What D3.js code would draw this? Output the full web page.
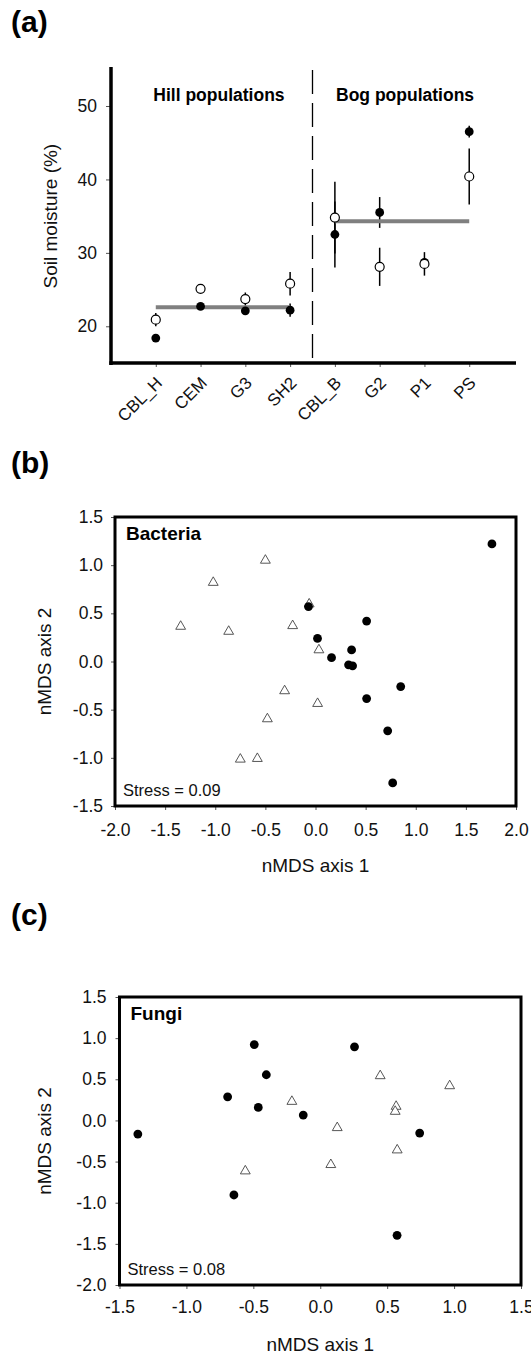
<!DOCTYPE html>
<html><head><meta charset="utf-8">
<script src="https://cdn.jsdelivr.net/npm/d3@7"></script>
<style>body{margin:0;background:#fff}svg{display:block;font-family:Arial,"Liberation Sans",sans-serif}</style>
</head><body><svg id="chart" width="531" height="1357"></svg>
<script>
// ---- Panel (a) data ----
const categories = ["CBL_H","CEM","G3","SH2","CBL_B","G2","P1","PS"];
const filledMean = [18.4, 22.7, 22.1, 22.2, 32.5, 35.5, 28.7, 46.5];
const filledErr  = [0.4, 0.4, 0.5, 0.9, 4.5, 2.1, 0.5, 0.8];
const openMean   = [20.9, 25.1, 23.7, 25.8, 34.8, 28.1, 28.5, 40.4];
const openErr    = [0.9, 0.4, 0.9, 1.6, 4.9, 2.6, 1.6, 3.8];
const groupNames = ["Hill populations","Bog populations"];
const groupMean  = [22.6, 34.3];
const groupFrom  = ["CBL_H","CBL_B"];
const groupTo    = ["SH2","PS"];
const yTicksA    = [20,30,40,50];

// ---- Panel (b) Bacteria ----
const bactFilledX = [1.76,-0.07,0.51,0.02,0.36,0.16,0.33,0.37,0.85,0.51,0.72,0.77];
const bactFilledY = [1.22,0.57,0.42,0.24,0.12,0.04,-0.035,-0.045,-0.26,-0.385,-0.72,-1.26];
const bactOpenX   = [-0.50,-1.02,-1.345,-0.866,-0.228,-0.063,0.034,-0.308,0.021,-0.48,-0.75,-0.58];
const bactOpenY   = [1.05,0.82,0.364,0.312,0.371,0.596,0.12,-0.305,-0.437,-0.596,-1.015,-1.008];
const bactXTicks  = [-2.0,-1.5,-1.0,-0.5,0.0,0.5,1.0,1.5,2.0];
const bactYTicks  = [-1.5,-1.0,-0.5,0.0,0.5,1.0,1.5];

// ---- Panel (c) Fungi ----
const fungFilledX = [-0.493,0.256,-0.403,-0.692,-0.463,-0.127,-1.363,0.743,-0.645,0.574];
const fungFilledY = [0.922,0.894,0.555,0.287,0.158,0.065,-0.166,-0.154,-0.906,-1.396];
const fungOpenX   = [0.448,0.967,-0.212,0.567,0.56,0.127,0.575,0.079,-0.56];
const fungOpenY   = [0.542,0.42,0.23,0.17,0.109,-0.089,-0.36,-0.538,-0.615];
const fungXTicks  = [-1.5,-1.0,-0.5,0.0,0.5,1.0,1.5];
const fungYTicks  = [-2.0,-1.5,-1.0,-0.5,0.0,0.5,1.0,1.5];

const svg = d3.select("#chart");
svg.append("rect").attr("width",531).attr("height",1357).attr("fill","#fff");

function panelLabel(t, x, y){
  svg.append("text").attr("x",x).attr("y",y).attr("font-size",30).attr("font-weight","bold").attr("fill","#000").text(t);
}
function styleAxis(g){
  g.select(".domain").remove();
  g.selectAll(".tick line").attr("stroke","#555").attr("stroke-width",1);
  g.selectAll(".tick text").attr("fill","#111").attr("font-family","Arial, 'Liberation Sans', sans-serif");
}

// ================= Panel (a) =================
panelLabel("(a)", 11, 32);
const xa = d3.scaleLinear().domain([0, categories.length + 1]).range([111, 514]);
const ya = d3.scaleLinear().domain([15, 55]).range([363, 69.3]);
const xpos = c => xa(categories.indexOf(c) + 1);

const gyA = svg.append("g").attr("transform","translate(111,0)")
  .call(d3.axisLeft(ya).tickValues(yTicksA).tickSize(5).tickPadding(9).tickFormat(d3.format("d")));
styleAxis(gyA);
gyA.selectAll(".tick text").attr("font-size",17.5);

const gxA = svg.append("g").attr("transform","translate(0,363)")
  .call(d3.axisBottom(xa).tickValues(categories.map((c,i)=>i+1)).tickSize(4).tickFormat(i=>categories[i-1]));
styleAxis(gxA);
gxA.selectAll(".tick text").attr("font-size",17).attr("text-anchor","end")
  .attr("x",null).attr("y",null).attr("dy",null)
  .attr("transform","translate(7,21) rotate(-45)");

svg.append("line").attr("x1",111).attr("x2",111).attr("y1",67).attr("y2",365)
  .attr("stroke","#000").attr("stroke-width",3.5);
svg.append("line").attr("x1",109.3).attr("x2",516).attr("y1",363).attr("y2",363)
  .attr("stroke","#000").attr("stroke-width",3.5);

// divider
svg.append("line").attr("x1",xa(4.5)).attr("x2",xa(4.5)).attr("y1",70).attr("y2",362)
  .attr("stroke","#000").attr("stroke-width",1.3).attr("stroke-dasharray","24,9");

svg.append("text").attr("transform","rotate(-90)").attr("x",-(ya(15)+ya(55))/2).attr("y",57)
  .attr("text-anchor","middle").attr("font-size",19).attr("fill","#111").text("Soil moisture (%)");

svg.selectAll("text.grp").data(groupNames).enter().append("text").attr("class","grp")
  .attr("x",(d,i)=>i===0 ? xa(2.5)-4 : xa(6.5)+3).attr("y",101)
  .attr("text-anchor","middle").attr("font-size",17.5).attr("font-weight","bold").attr("fill","#000").text(d=>d);

// error bars
categories.forEach((c,i)=>{
  svg.append("line").attr("x1",xpos(c)).attr("x2",xpos(c))
    .attr("y1",ya(openMean[i]+openErr[i])).attr("y2",ya(openMean[i]-openErr[i]))
    .attr("stroke","#000").attr("stroke-width",1.5);
  svg.append("line").attr("x1",xpos(c)).attr("x2",xpos(c))
    .attr("y1",ya(filledMean[i]+filledErr[i])).attr("y2",ya(filledMean[i]-filledErr[i]))
    .attr("stroke","#000").attr("stroke-width",1.5);
});
// group mean lines
groupMean.forEach((m,i)=>{
  svg.append("line").attr("x1",xpos(groupFrom[i])).attr("x2",xpos(groupTo[i]))
    .attr("y1",ya(m)).attr("y2",ya(m)).attr("stroke","#808080").attr("stroke-width",4);
});
svg.selectAll("circle.fa").data(categories).enter().append("circle").attr("class","fa")
  .attr("cx",d=>xpos(d)).attr("cy",(d,i)=>ya(filledMean[i])).attr("r",4.4).attr("fill","#000");
svg.selectAll("circle.oa").data(categories).enter().append("circle").attr("class","oa")
  .attr("cx",d=>xpos(d)).attr("cy",(d,i)=>ya(openMean[i])).attr("r",4.5)
  .attr("fill","#fff").attr("stroke","#000").attr("stroke-width",1.2);

// ================= nMDS panels =================
function nmds(o){
  panelLabel(o.label, 11, o.labelY);
  const x = d3.scaleLinear().domain(o.xd).range(o.xr);
  const y = d3.scaleLinear().domain(o.yd).range(o.yr);
  const fmt = d => d3.format(".1f")(d).replace("−","-");
  const gx = svg.append("g").attr("transform",`translate(0,${o.yr[0]})`)
    .call(d3.axisBottom(x).tickValues(o.xt).tickSize(4).tickPadding(o.xpad).tickFormat(fmt));
  styleAxis(gx);
  gx.selectAll(".tick text").attr("font-size",17.5);
  const gy = svg.append("g").attr("transform",`translate(${o.xr[0]},0)`)
    .call(d3.axisLeft(y).tickValues(o.yt).tickSize(4).tickPadding(o.ypad).tickFormat(fmt));
  styleAxis(gy);
  gy.selectAll(".tick text").attr("font-size",17.5);

  svg.append("rect").attr("x",o.xr[0]).attr("y",o.yr[1]).attr("width",o.xr[1]-o.xr[0]).attr("height",o.yr[0]-o.yr[1])
    .attr("fill","none").attr("stroke","#000").attr("stroke-width",3);

  const tri = d3.symbol().type(d3.symbolTriangle).size(42);
  svg.append("g").selectAll("path").data(o.ox).enter().append("path")
    .attr("d",tri).attr("transform",(d,i)=>`translate(${x(d)},${y(o.oy[i])})`)
    .attr("fill","#fff").attr("stroke","#444").attr("stroke-width",0.9);
  svg.append("g").selectAll("circle").data(o.fx).enter().append("circle")
    .attr("cx",d=>x(d)).attr("cy",(d,i)=>y(o.fy[i])).attr("r",4.4).attr("fill","#000");

  svg.append("text").attr("x",o.xr[0]+11).attr("y",o.yr[1]+23).attr("font-size",19).attr("font-weight","bold").text(o.title);
  svg.append("text").attr("x",o.xr[0]+8).attr("y",o.yr[0]-10).attr("font-size",16.5).attr("fill","#111").text(o.stress);
  svg.append("text").attr("x",(o.xr[0]+o.xr[1])/2).attr("y",o.xTitleY).attr("text-anchor","middle")
    .attr("font-size",19).attr("fill","#111").text("nMDS axis 1");
  svg.append("text").attr("transform","rotate(-90)").attr("x",-(o.yr[0]+o.yr[1])/2).attr("y",51)
    .attr("text-anchor","middle").attr("font-size",19).attr("fill","#111").text("nMDS axis 2");
}

nmds({label:"(b)", labelY:473, xd:[-2,2], xr:[115,516], yd:[-1.5,1.5], yr:[806,517],
  xt:bactXTicks, yt:bactYTicks, xpad:14, ypad:8, fx:bactFilledX, fy:bactFilledY, ox:bactOpenX, oy:bactOpenY,
  title:"Bacteria", stress:"Stress = 0.09", xTitleY:872});
nmds({label:"(c)", labelY:925, xd:[-1.5,1.5], xr:[119.5,521], yd:[-2,1.5], yr:[1285,997],
  xt:fungXTicks, yt:fungYTicks, xpad:12, ypad:9, fx:fungFilledX, fy:fungFilledY, ox:fungOpenX, oy:fungOpenY,
  title:"Fungi", stress:"Stress = 0.08", xTitleY:1351});
</script>
</body></html>
